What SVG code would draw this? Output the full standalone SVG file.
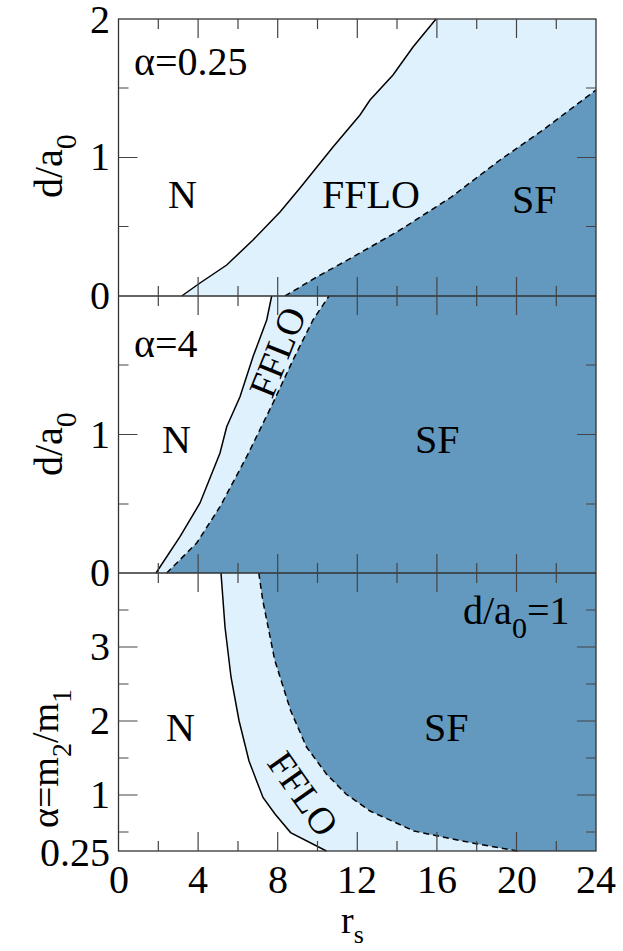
<svg xmlns="http://www.w3.org/2000/svg" width="623" height="951" viewBox="0 0 623 951">
<style>
.t{font-family:"Liberation Serif","Times New Roman","DejaVu Serif",serif;fill:#000}
.lt{fill:#dff1fd}
.dk{fill:#6399be}
.sol{fill:none;stroke:#000;stroke-width:1.5}
.dsh{fill:none;stroke:#000;stroke-width:1.5;stroke-dasharray:6,4}
.fr{fill:none;stroke:#333;stroke-width:1.3}
.tk{fill:none;stroke:#444;stroke-width:1.2}
</style>
<rect width="623" height="951" fill="#fff"/>
<g id="panel-top">
<path class="lt" d="M181.7,296 L200,283 226.7,265 253,240 280,212 300,188 333,147 360,115 370,100 393,75 413,47 436,19 596,19 596,296 Z"/>
<path class="dk" d="M285,296 L316.7,277 353,257 400,230 450,198 500,160 543,130 596,90 596,296 Z"/>
<path class="sol" d="M181.7,296 L200,283 226.7,265 253,240 280,212 300,188 333,147 360,115 370,100 393,75 413,47 436,19"/>
<path class="dsh" d="M285,296 L316.7,277 353,257 400,230 450,198 500,160 543,130 596,90"/>
<text class="t" x="134" y="75" font-size="40" font-family="Liberation Serif, serif">α=0.25</text>
<text class="t" x="168" y="208" font-size="40" font-family="Liberation Serif, serif">N</text>
<text class="t" x="322" y="208" font-size="40" font-family="Liberation Serif, serif">FFLO</text>
<text class="t" x="512" y="213" font-size="40" font-family="Liberation Serif, serif">SF</text>
</g>
<g id="panel-mid">
<path class="lt" d="M156,573 L180,536.7 200,503 220,453 226.7,426.7 240,396.7 253,356.7 266.7,320 271.7,296 596,296 596,573 Z"/>
<path class="dk" d="M166.7,573 L196.7,543 220,506.7 246.7,456.7 273,403 293,360 313,320 329,296 596,296 596,573 Z"/>
<path class="sol" d="M156,573 L180,536.7 200,503 220,453 226.7,426.7 240,396.7 253,356.7 266.7,320 271.7,296"/>
<path class="dsh" d="M166.7,573 L196.7,543 220,506.7 246.7,456.7 273,403 293,360 313,320 329,296"/>
<text class="t" x="134" y="357" font-size="40" font-family="Liberation Serif, serif">α=4</text>
<text class="t" x="162" y="453" font-size="40" font-family="Liberation Serif, serif">N</text>
<text class="t" x="415" y="453" font-size="40" font-family="Liberation Serif, serif">SF</text>
<text class="t" font-size="38" font-family="Liberation Serif, serif" transform="translate(272,400) rotate(-68)">FFLO</text>
</g>
<g id="panel-bot">
<path class="lt" d="M221,573 L225,627 231,677 239,720.5 249,761 263,797.5 275,814 290.6,832.6 326.4,851 596,851 596,573 Z"/>
<path class="dk" d="M258.8,573 L262.7,600 274.7,660 290.6,710.5 306.5,747 326.4,774 346,794 370,811 414,831 438,836 477.7,844 517.5,851 596,851 596,573 Z"/>
<path class="sol" d="M221,573 L225,627 231,677 239,720.5 249,761 263,797.5 275,814 290.6,832.6 326.4,851"/>
<path class="dsh" d="M258.8,573 L262.7,600 274.7,660 290.6,710.5 306.5,747 326.4,774 346,794 370,811 414,831 438,836 477.7,844 517.5,851"/>
<text class="t" x="463" y="624" font-size="40" font-family="Liberation Serif, serif">d/a<tspan font-size="30" dy="14">0</tspan><tspan dy="-14">=1</tspan></text>
<text class="t" x="166" y="741" font-size="40" font-family="Liberation Serif, serif">N</text>
<text class="t" x="424" y="741" font-size="40" font-family="Liberation Serif, serif">SF</text>
<text class="t" font-size="38" font-family="Liberation Serif, serif" transform="translate(266,763) rotate(55)">FFLO</text>
</g>
<g id="axes">
<rect class="fr" x="118.5" y="19" width="477.5" height="832"/>
<path class="fr" d="M118.5,296H596M118.5,573H596"/>
<path class="tk" d="M198.1,19v19M277.7,19v19M357.3,19v19M436.9,19v19M516.5,19v19M158.3,19v10M238,19v10M317.5,19v10M397,19v10M476.7,19v10M556.3,19v10
M198.1,296v-19M277.7,296v-19M357.3,296v-19M436.9,296v-19M516.5,296v-19M158.3,296v-10M238,296v-10M317.5,296v-10M397,296v-10M476.7,296v-10M556.3,296v-10
M198.1,296v19M277.7,296v19M357.3,296v19M436.9,296v19M516.5,296v19M158.3,296v10M238,296v10M317.5,296v10M397,296v10M476.7,296v10M556.3,296v10
M198.1,573v-19M277.7,573v-19M357.3,573v-19M436.9,573v-19M516.5,573v-19M158.3,573v-10M238,573v-10M317.5,573v-10M397,573v-10M476.7,573v-10M556.3,573v-10
M198.1,573v19M277.7,573v19M357.3,573v19M436.9,573v19M516.5,573v19M158.3,573v10M238,573v10M317.5,573v10M397,573v10M476.7,573v10M556.3,573v10
M198.1,851v-19M277.7,851v-19M357.3,851v-19M436.9,851v-19M516.5,851v-19M158.3,851v-10M238,851v-10M317.5,851v-10M397,851v-10M476.7,851v-10M556.3,851v-10
M118.5,157.5h19M118.5,88h10M118.5,226.5h10M596,157.5h-19M596,88h-10M596,226.5h-10
M118.5,434.5h19M118.5,365h10M118.5,504h10M596,434.5h-19M596,365h-10M596,504h-10
M118.5,647h19M118.5,721h19M118.5,795h19M118.5,610h10M118.5,684h10M118.5,758h10M118.5,832h10
M596,647h-19M596,721h-19M596,795h-19M596,610h-10M596,684h-10M596,758h-10M596,832h-10"/>
<g class="t" font-size="40" font-family="Liberation Serif, serif" text-anchor="end">
<text x="110" y="33">2</text><text x="110" y="170">1</text><text x="110" y="309">0</text>
<text x="110" y="448">1</text><text x="110" y="586">0</text>
<text x="110" y="660">3</text><text x="110" y="734">2</text><text x="110" y="808">1</text><text x="110" y="866">0.25</text>
</g>
<g class="t" font-size="40" font-family="Liberation Serif, serif" text-anchor="middle">
<text x="119" y="893">0</text><text x="198" y="893">4</text><text x="278" y="893">8</text><text x="357" y="893">12</text><text x="437" y="893">16</text><text x="517" y="893">20</text><text x="596" y="893">24</text>
</g>
<text class="t" x="341" y="933" font-size="38" font-family="Liberation Serif, serif">r<tspan font-size="26" dy="10">s</tspan></text>
<text class="t" font-size="40" font-family="Liberation Serif, serif" transform="translate(62,198) rotate(-90)">d/a<tspan font-size="30" dy="14">0</tspan></text>
<text class="t" font-size="40" font-family="Liberation Serif, serif" transform="translate(62,476) rotate(-90)">d/a<tspan font-size="30" dy="14">0</tspan></text>
<text class="t" font-size="38" font-family="Liberation Serif, serif" transform="translate(58,828) rotate(-90)">α=m<tspan font-size="28" dy="13">2</tspan><tspan dy="-13">/m</tspan><tspan font-size="28" dy="13">1</tspan></text>
</g>
</svg>
